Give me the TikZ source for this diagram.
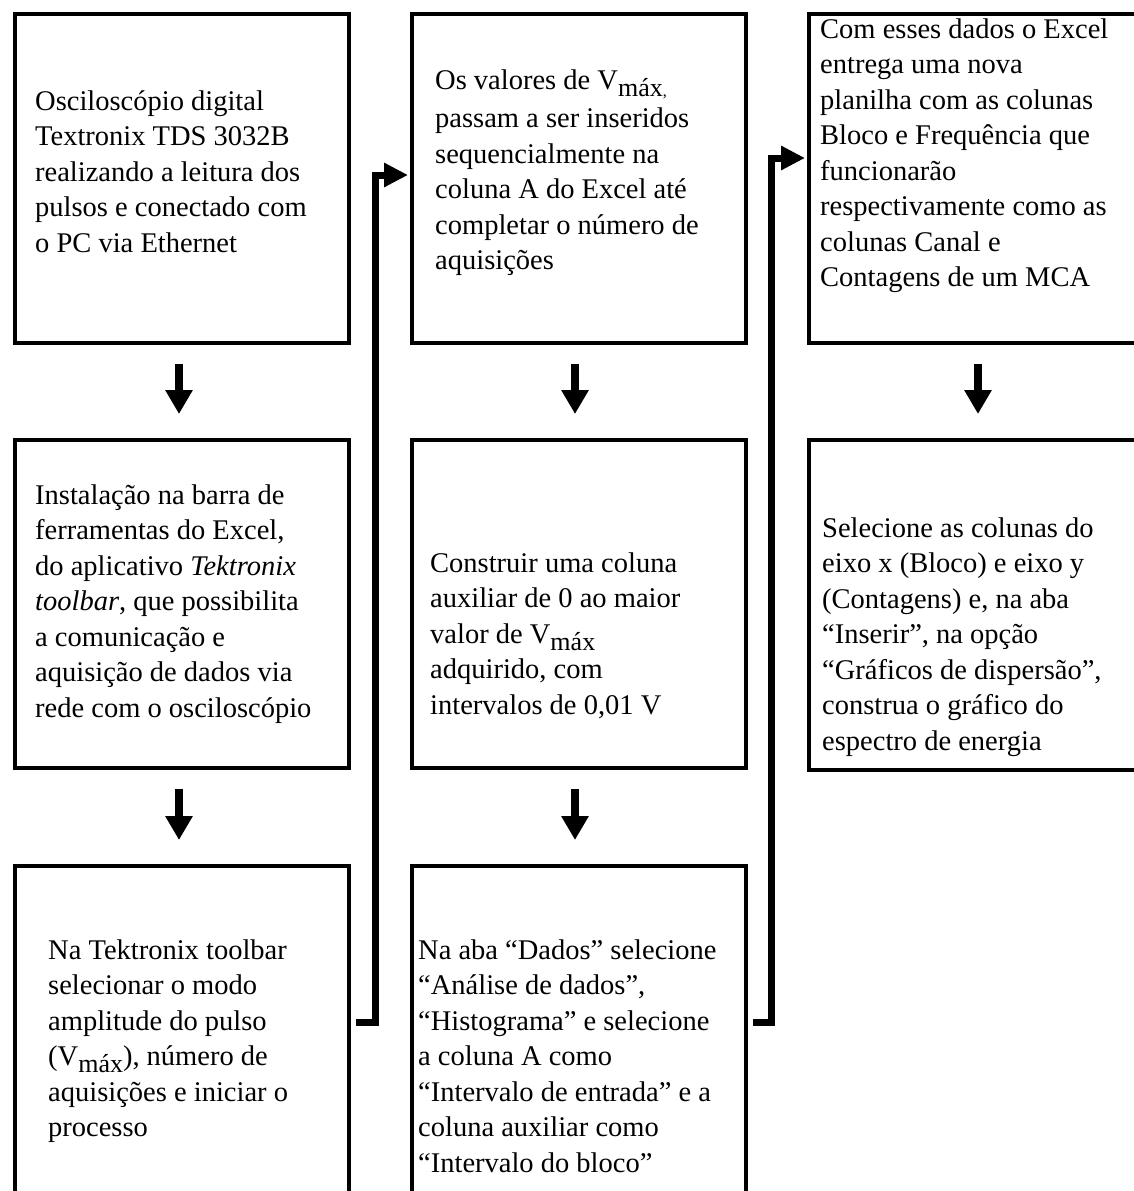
\documentclass[tikz,border=0pt]{standalone}
\usepackage{fontspec}
\setmainfont{Liberation Serif}
\usetikzlibrary{arrows.meta,calc}
\newcommand{\mysub}[1]{\raisebox{-7pt}{\fontsize{26}{26}\selectfont #1}}
\begin{document}
\begin{tikzpicture}[x=1pt,y=-1pt,
  box/.style={draw, line width=4pt, inner sep=0pt, minimum width=334pt},
  txt/.style={anchor=base west, align=left, inner sep=0pt, font=\fontsize{28.5}{35.5}\selectfont},
  down/.style={line width=8pt, -{Triangle[length=24pt,width=26pt]}},
  elbow/.style={line width=7pt, line join=miter, -{Triangle[length=24pt,width=23pt]}}]
\useasboundingbox (0,0) rectangle (1134,1191);
\clip (0,0) rectangle (1134,1191);
% boxes
\node[box, minimum height=329pt] (b1) at (182,178.5) {};
\node[box, minimum height=328pt] (b2) at (182,604) {};
\node[box, minimum height=340pt] (b3) at (182,1036) {};
\node[box, minimum height=329pt] (b4) at (579,178.5) {};
\node[box, minimum height=328pt] (b5) at (579,604) {};
\node[box, minimum height=340pt] (b6) at (579,1036) {};
\node[box, minimum height=329pt] (b7) at (976,178.5) {};
\node[box, minimum height=330pt] (b8) at (976,605) {};
% texts (anchored at the baseline of the last line)
\node[txt] (t1) at (35,252) {Osciloscópio digital\\Textronix TDS 3032B\\realizando a leitura dos\\pulsos e conectado com\\o PC via Ethernet};
\node[txt] (t2) at (35,717) {Instalação na barra de\\ferramentas do Excel,\\do aplicativo \textit{Tektronix}\\\textit{toolbar}, que possibilita\\a comunicação e\\aquisição de dados via\\rede com o osciloscópio};
\node[txt] (t3) at (48,1136.5) {Na Tektronix toolbar\\selecionar o modo\\amplitude do pulso\\(V\mysub{máx}), número de\\aquisições e iniciar o\\processo};
\node[txt] (t4) at (435,269.5) {Os valores de V\mysub{máx\fontsize{16}{16}\selectfont,}\\[3pt]passam a ser inseridos\\sequencialmente na\\coluna A do Excel até\\completar o número de\\aquisições};
\node[txt] (t5) at (430,714) {Construir uma coluna\\auxiliar de 0 ao maior\\valor de V\mysub{máx}\\adquirido, com\\intervalos de 0,01 V};
\node[txt] (t6) at (418,1172) {Na aba “Dados” selecione\\“Análise de dados”,\\“Histograma” e selecione\\a coluna A como\\“Intervalo de entrada” e a\\coluna auxiliar como\\“Intervalo do bloco”};
\node[txt] (t7) at (820,286.5) {Com esses dados o Excel\\entrega uma nova\\planilha com as colunas\\Bloco e Frequência que\\funcionarão\\respectivamente como as\\colunas Canal e\\Contagens de um MCA};
\node[txt] (t8) at (822,750) {Selecione as colunas do\\eixo x (Bloco) e eixo y\\(Contagens) e, na aba\\“Inserir”, na opção\\“Gráficos de dispersão”,\\construa o gráfico do\\espectro de energia};
% down arrows
\draw[down] ($(b1.south)+(-3,19)$) -- ($(b2.north)+(-3,-24)$);
\draw[down] ($(b2.south)+(-3,19)$) -- ($(b3.north)+(-3,-24)$);
\draw[down] ($(b4.south)+(-4,19)$) -- ($(b5.north)+(-4,-24)$);
\draw[down] ($(b5.south)+(-4,19)$) -- ($(b6.north)+(-4,-24)$);
\draw[down] ($(b7.south)+(2,19)$) -- ($(b8.north)+(2,-24)$);
% elbow connectors
\coordinate (ylow) at (0,1022);
\coordinate (yhigh1) at (0,175);
\coordinate (yhigh2) at (0,158);
\coordinate (xa) at (375.5,0);
\coordinate (xb) at (771,0);
\draw[elbow] ($(b3.east |- ylow)+(5,0)$) -- (xa |- ylow) -- (xa |- yhigh1) -- ($(b4.west |- yhigh1)+(-2,0)$);
\draw[elbow] ($(b6.east |- ylow)+(5,0)$) -- (xb |- ylow) -- (xb |- yhigh2) -- ($(b7.west |- yhigh2)+(-2,0)$);
\end{tikzpicture}
\end{document}
